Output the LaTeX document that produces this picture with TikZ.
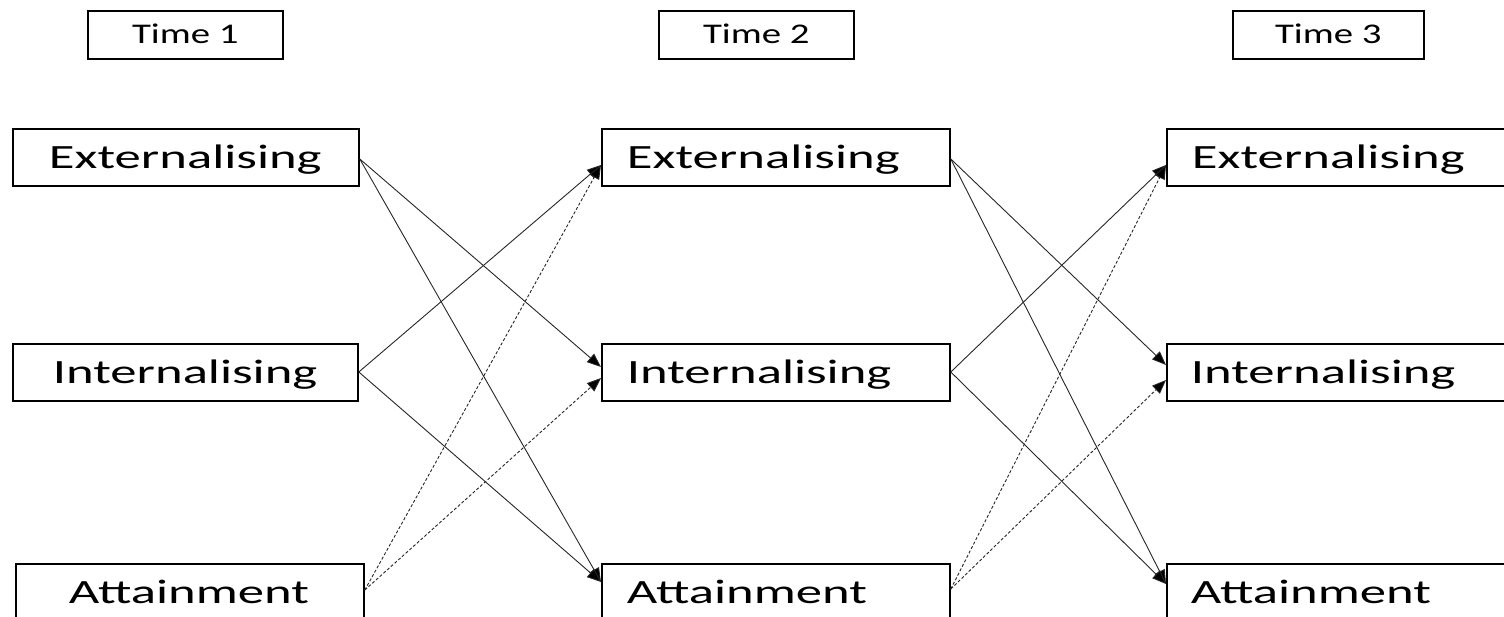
\documentclass[tikz,border=0pt]{standalone}
\usepackage{fontspec}
\setmainfont{Carlito}
\usetikzlibrary{arrows.meta,calc}
\newcommand{\mainlbl}[1]{\fontsize{34}{40}\selectfont\scalebox{1.55}[1]{#1}}
\newcommand{\timelbl}[1]{\fontsize{28.5}{33}\selectfont\scalebox{1.36}[1]{#1}}
\begin{document}
\begin{tikzpicture}[x=1pt,y=-1pt,
  box/.style={draw, line width=1.8pt, rectangle, anchor=north west, inner xsep=0pt, inner ysep=0pt, text height=40pt, text depth=17pt},
  timebox/.style={draw, line width=1.6pt, rectangle, anchor=north west, inner xsep=0pt, inner ysep=0pt, text height=33pt, text depth=15pt},
  conn/.style={line width=0.9pt, draw=black!85, -{Triangle[length=14pt,width=11pt,fill=black]}},
  dconn/.style={conn, dash pattern=on 3pt off 2pt}]
\useasboundingbox (0,0) rectangle (1504,617);
% time labels
\node[timebox] (t1) at (87,10) {\makebox[195pt]{\timelbl{Time 1}}};
\node[timebox] (t2) at (658,10) {\makebox[195pt]{\timelbl{Time 2}}};
\node[timebox] (t3) at (1232,10) {\makebox[191pt]{\timelbl{Time 3}}};
% column 1
\node[box] (e1) at (12,128) {\makebox[346pt][l]{\hspace{36pt}\mainlbl{Externalising}}};
\node[box] (i1) at (12,343) {\makebox[345pt][l]{\hspace{40pt}\mainlbl{Internalising}}};
\node[box] (a1) at (15,563) {\makebox[348pt][l]{\hspace{53pt}\mainlbl{Attainment}}};
% column 2
\node[box] (e2) at (601,128) {\makebox[348pt][l]{\hspace{25pt}\mainlbl{Externalising}}};
\node[box] (i2) at (601,343) {\makebox[348pt][l]{\hspace{25pt}\mainlbl{Internalising}}};
\node[box] (a2) at (601,563) {\makebox[348pt][l]{\hspace{25pt}\mainlbl{Attainment}}};
% column 3
\node[box] (e3) at (1166,128) {\makebox[348pt][l]{\hspace{25pt}\mainlbl{Externalising}}};
\node[box] (i3) at (1166,343) {\makebox[348pt][l]{\hspace{24pt}\mainlbl{Internalising}}};
\node[box] (a3) at (1166,563) {\makebox[348pt][l]{\hspace{24pt}\mainlbl{Attainment}}};
% connector end points
\coordinate (e1o) at ($(e1.north east)+(0,31)$);
\coordinate (i1o) at ($(i1.north east)+(0,29)$);
\coordinate (a1o) at ($(a1.north east)+(0,27)$);
\coordinate (e2i) at ($(e2.north west)+(0,37)$);
\coordinate (i2ia) at ($(i2.north west)+(0,24)$);
\coordinate (i2ib) at ($(i2.north west)+(0,35)$);
\coordinate (a2i) at ($(a2.north west)+(0,19)$);
\coordinate (e2o) at ($(e2.north east)+(0,31)$);
\coordinate (i2o) at ($(i2.north east)+(0,29)$);
\coordinate (a2o) at ($(a2.north east)+(0,26)$);
\coordinate (e3i) at ($(e3.north west)+(0,37)$);
\coordinate (i3ia) at ($(i3.north west)+(0,22)$);
\coordinate (i3ib) at ($(i3.north west)+(0,37)$);
\coordinate (a3i) at ($(a3.north west)+(0,21)$);
% time 1 -> time 2
\draw[conn] (e1o) -- (i2ia);
\draw[conn] (e1o) -- (a2i);
\draw[conn] (i1o) -- (e2i);
\draw[conn] (i1o) -- (a2i);
\draw[dconn] (a1o) -- (e2i);
\draw[dconn] (a1o) -- (i2ib);
% time 2 -> time 3
\draw[conn] (e2o) -- (i3ia);
\draw[conn] (e2o) -- (a3i);
\draw[conn] (i2o) -- (e3i);
\draw[conn] (i2o) -- (a3i);
\draw[dconn] (a2o) -- (e3i);
\draw[dconn] (a2o) -- (i3ib);
\end{tikzpicture}
\end{document}
